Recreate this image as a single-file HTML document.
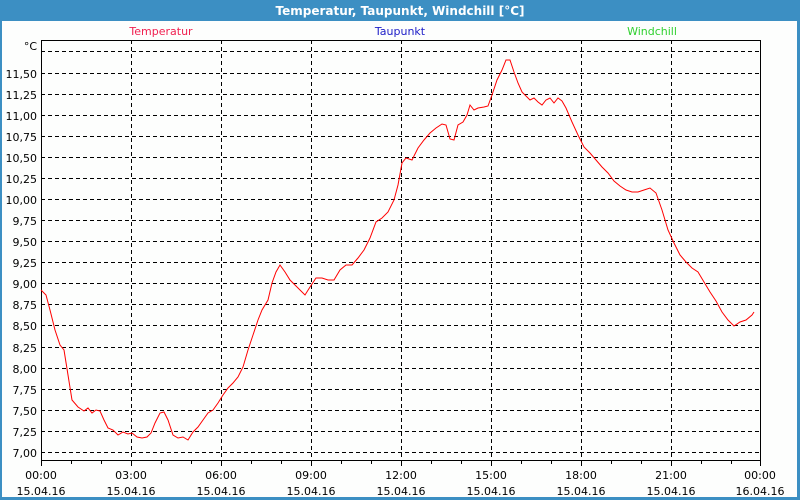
<!DOCTYPE html>
<html><head><style>
html,body{margin:0;padding:0;background:#fff;}
svg{display:block;font-family:"DejaVu Sans","Liberation Sans",sans-serif;}
</style></head><body>
<svg width="800" height="500" xmlns="http://www.w3.org/2000/svg">
<rect x="0" y="0" width="800" height="500" fill="#3c8fc3"/>
<rect x="2" y="21" width="795" height="476" fill="#fdfefd"/>
<text x="400" y="15" font-size="12" font-weight="bold" fill="#fff" text-anchor="middle">Temperatur, Taupunkt, Windchill [°C]</text>
<text x="161" y="35" font-size="11" fill="#f02050" text-anchor="middle">Temperatur</text>
<text x="400" y="35" font-size="11" fill="#2020c8" text-anchor="middle">Taupunkt</text>
<text x="652" y="35" font-size="11" fill="#30d030" text-anchor="middle">Windchill</text>
<text x="37" y="50" font-size="11" fill="#000" text-anchor="end">°C</text>
<g stroke="#000" stroke-width="1" stroke-dasharray="4,3" shape-rendering="crispEdges">
<line x1="41" x2="760" y1="51.5" y2="51.5"/><line x1="41" x2="760" y1="73.5" y2="73.5"/><line x1="41" x2="760" y1="94.5" y2="94.5"/><line x1="41" x2="760" y1="115.5" y2="115.5"/><line x1="41" x2="760" y1="136.5" y2="136.5"/><line x1="41" x2="760" y1="157.5" y2="157.5"/><line x1="41" x2="760" y1="178.5" y2="178.5"/><line x1="41" x2="760" y1="199.5" y2="199.5"/><line x1="41" x2="760" y1="220.5" y2="220.5"/><line x1="41" x2="760" y1="241.5" y2="241.5"/><line x1="41" x2="760" y1="262.5" y2="262.5"/><line x1="41" x2="760" y1="283.5" y2="283.5"/><line x1="41" x2="760" y1="304.5" y2="304.5"/><line x1="41" x2="760" y1="325.5" y2="325.5"/><line x1="41" x2="760" y1="347.5" y2="347.5"/><line x1="41" x2="760" y1="368.5" y2="368.5"/><line x1="41" x2="760" y1="389.5" y2="389.5"/><line x1="41" x2="760" y1="410.5" y2="410.5"/><line x1="41" x2="760" y1="431.5" y2="431.5"/><line x1="41" x2="760" y1="452.5" y2="452.5"/>
<line x1="131.5" x2="131.5" y1="40" y2="460"/><line x1="221.5" x2="221.5" y1="40" y2="460"/><line x1="311.5" x2="311.5" y1="40" y2="460"/><line x1="401.5" x2="401.5" y1="40" y2="460"/><line x1="491.5" x2="491.5" y1="40" y2="460"/><line x1="581.5" x2="581.5" y1="40" y2="460"/><line x1="671.5" x2="671.5" y1="40" y2="460"/>
</g>
<g stroke="#000" stroke-width="1" shape-rendering="crispEdges">
<rect x="41.5" y="40.5" width="719" height="420" fill="none"/>
<path d="M41.5 460v6M71.5 460v4M101.5 460v4M131.5 460v6M161.5 460v4M191.5 460v4M221.5 460v6M251.5 460v4M281.5 460v4M311.5 460v6M341.5 460v4M371.5 460v4M401.5 460v6M431.5 460v4M461.5 460v4M491.5 460v6M521.5 460v4M551.5 460v4M581.5 460v6M611.5 460v4M641.5 460v4M671.5 460v6M701.5 460v4M731.5 460v4M760.5 460v6"/>
</g>
<g font-size="11" fill="#000" text-anchor="end">
<text x="37" y="78">11,50</text><text x="37" y="99">11,25</text><text x="37" y="120">11,00</text><text x="37" y="141">10,75</text><text x="37" y="162">10,50</text><text x="37" y="183">10,25</text><text x="37" y="204">10,00</text><text x="37" y="225">9,75</text><text x="37" y="246">9,50</text><text x="37" y="267">9,25</text><text x="37" y="288">9,00</text><text x="37" y="309">8,75</text><text x="37" y="330">8,50</text><text x="37" y="352">8,25</text><text x="37" y="373">8,00</text><text x="37" y="394">7,75</text><text x="37" y="415">7,50</text><text x="37" y="436">7,25</text><text x="37" y="457">7,00</text>
</g>
<g font-size="11" fill="#000" text-anchor="middle">
<text x="41" y="479">00:00</text><text x="41" y="495">15.04.16</text>
<text x="131" y="479">03:00</text><text x="131" y="495">15.04.16</text>
<text x="221" y="479">06:00</text><text x="221" y="495">15.04.16</text>
<text x="311" y="479">09:00</text><text x="311" y="495">15.04.16</text>
<text x="401" y="479">12:00</text><text x="401" y="495">15.04.16</text>
<text x="491" y="479">15:00</text><text x="491" y="495">15.04.16</text>
<text x="581" y="479">18:00</text><text x="581" y="495">15.04.16</text>
<text x="671" y="479">21:00</text><text x="671" y="495">15.04.16</text>
<text x="760" y="479">00:00</text><text x="760" y="495">16.04.16</text>
</g>
<polyline fill="none" stroke="#f00" stroke-width="1" points="41,290 46,295 50,310 55,330 60,345 64,350 68,375 72,400 78,407 84,411 88,408 92,413 96,410 100,411 104,420 108,428 113,430 118,435 123,432 128,434 132,433 137,437 142,438 147,437 151,433 155,423 160,413 164,412 168,420 173,435 178,438 183,437 188,440 193,432 198,427 203,420 208,413 213,410 218,403 223,395 228,388 233,383 238,377 243,367 248,350 253,335 258,320 262,310 268,300 272,283 276,272 280,265 285,272 290,280 295,285 300,290 305,295 310,287 316,278 322,278 328,280 334,280 340,270 346,265 352,265 358,258 364,250 370,238 376,222 382,218 388,212 394,200 398,185 402,163 406,158 412,160 418,148 424,140 430,133 436,128 442,124 446,125 450,139 454,140 458,125 463,122 467,115 470,105 474,110 478,108 484,107 488,106 492,95 497,80 502,70 506,60 510,60 514,72 518,83 522,92 526,96 530,100 534,98 538,102 542,105 546,100 550,98 554,103 558,98 562,101 566,108 572,122 578,135 584,147 590,153 596,160 602,167 608,173 614,181 620,186 626,190 632,192 638,192 644,190 650,188 656,193 662,210 668,230 674,243 680,255 686,262 692,268 698,272 704,282 710,292 716,301 722,312 728,320 734,326 740,322 746,320 752,315 754,312"/>
</svg>
</body></html>
